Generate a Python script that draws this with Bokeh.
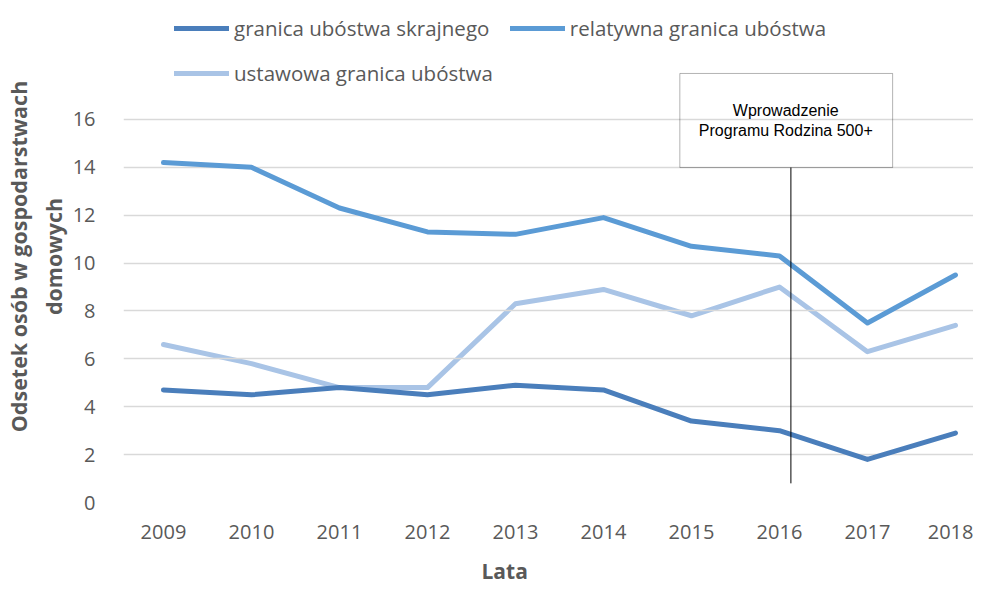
from bokeh.plotting import figure
from bokeh.models import Legend, LegendItem, FixedTicker, Range1d, Label, BoxAnnotation, Title
from bokeh.embed import file_html
from bokeh.resources import INLINE

years = [2009, 2010, 2011, 2012, 2013, 2014, 2015, 2016, 2017, 2018]
skrajne = [4.7, 4.5, 4.8, 4.5, 4.9, 4.7, 3.4, 3.0, 1.8, 2.9]
relatywna = [14.2, 14.0, 12.3, 11.3, 11.2, 11.9, 10.7, 10.3, 7.5, 9.5]
ustawowa = [6.6, 5.8, 4.8, 4.8, 8.3, 8.9, 7.8, 9.0, 6.3, 7.4]
series_names = ["granica ubóstwa skrajnego", "relatywna granica ubóstwa", "ustawowa granica ubóstwa"]
y_ticks = [0, 2, 4, 6, 8, 10, 12, 14, 16]
annotation_text = "Wprowadzenie\nProgramu Rodzina 500+"
annotation_year = 2016

colors = ["#4a7ebb", "#5b9bd5", "#a9c4e6"]
FONT = "Open Sans"
GREY = "#595959"

p = figure(width=973, height=598, output_backend="svg", toolbar_location=None,
           x_range=Range1d(2008.546, 2018.205), y_range=Range1d(0, 20.55),
           min_border_left=114, min_border_right=0, min_border_top=10, min_border_bottom=96)
p.outline_line_color = None
p.background_fill_color = "white"

renderers = []
for vals, c in zip([skrajne, relatywna, ustawowa], colors):
    r = p.line(years, vals, line_color=c, line_width=5, line_join="round", line_cap="round")
    renderers.append(r)
renderers[2].level = "underlay"

p.xaxis.ticker = FixedTicker(ticks=years)
p.yaxis.ticker = FixedTicker(ticks=y_ticks)
p.xgrid.grid_line_color = None
p.ygrid.grid_line_color = "#d9d9d9"
p.ygrid.grid_line_width = 1.5
for ax in (p.xaxis[0], p.yaxis[0]):
    ax.axis_line_color = None
    ax.major_tick_line_color = None
    ax.minor_tick_line_color = None
    ax.major_label_text_font = FONT
    ax.major_label_text_font_size = "20px"
    ax.major_label_text_color = GREY
p.yaxis.major_label_standoff = 22
p.xaxis.major_label_standoff = 16
p.yaxis.axis_label = "Odsetek osób w gospodarstwach\ndomowych"
p.yaxis.axis_label_text_font = FONT
p.yaxis.axis_label_text_font_size = "21.5px"
p.yaxis.axis_label_text_font_style = "bold"
p.yaxis.axis_label_text_color = GREY
p.yaxis.axis_label_standoff = 2

# x-axis title "Lata", offset left of the frame centre as in the reference
p.add_layout(Title(text="Lata", align="left", offset=358, standoff=27, text_font=FONT,
                   text_font_size="21px", text_font_style="bold", text_color=GREY), "below")

# annotation box + pointer line
box = BoxAnnotation(left=2014.868, right=2017.286, bottom=13.99, top=17.92,
                    fill_alpha=0, line_color="#000000", line_width=1, level="overlay")
p.add_layout(box)
p.segment(x0=[annotation_year + 0.13], y0=[13.99], x1=[annotation_year + 0.13], y1=[0.8],
          line_color="#000000", line_width=1)
p.add_layout(Label(x=2016.072, y=15.95, text=annotation_text, text_font="Liberation Sans",
                   text_font_size="16px", text_color="#000000", text_align="center",
                   text_baseline="middle", text_line_height=1.2))

legend = Legend(items=[LegendItem(label=n, renderers=[r]) for n, r in zip(series_names, renderers)],
                location=(51, 415), ncols=2, orientation="horizontal")
legend.label_text_font = FONT
legend.label_text_font_size = "20.5px"
legend.label_text_color = GREY
legend.glyph_width = 55
legend.glyph_height = 28
legend.label_height = 28
legend.label_standoff = 5
legend.spacing = 17
legend.padding = 3
legend.margin = 0
legend.border_line_color = None
legend.background_fill_alpha = 0
p.add_layout(legend)

open("out.html", "w").write(file_html(p, INLINE))
